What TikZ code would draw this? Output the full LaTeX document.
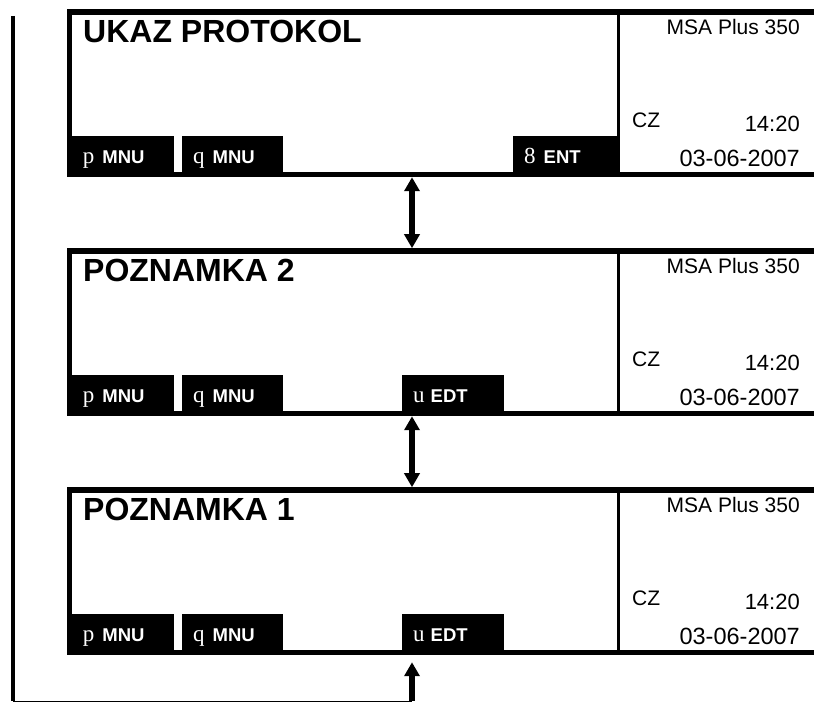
\documentclass[tikz,border=0pt]{standalone}
\usepackage{fontspec}
\setmainfont{Liberation Sans}
\newfontfamily\keysym{Liberation Serif}
\usetikzlibrary{arrows.meta,positioning}
\newcommand{\ksym}[1]{{\keysym\mdseries\fontsize{23}{23}\selectfont #1}}

\begin{document}
\begin{tikzpicture}[x=1pt, y=1pt,
    screen/.style={draw, line width=5.5pt, minimum width=760.5pt, minimum height=162.5pt, inner sep=0pt},
    softkey/.style={fill=black, anchor=south west, minimum height=41pt, inner sep=0pt},
    keylbl/.style={anchor=base west, text=white, inner sep=0pt, font=\fontsize{18.5}{18.5}\selectfont\bfseries},
    title/.style={anchor=base west, inner sep=0pt, font=\fontsize{32}{32}\selectfont\bfseries},
    info/.style={inner sep=0pt, font=\fontsize{21}{21}\selectfont},
    clock/.style={info, font=\fontsize{22}{22}\selectfont},
    date/.style={info, font=\fontsize{23.5}{23.5}\selectfont},
    divider/.style={line width=3pt},
    flow/.style={line width=5.5pt, {Triangle[width=15pt,length=14pt]}-{Triangle[width=15pt,length=14pt]}}]
    \useasboundingbox (0,0) rectangle (814,703);
    \clip (0,0) rectangle (814,703);

    \coordinate (dv) at (618.5, 0);
    \coordinate (ax) at (412, 0);
    \coordinate (rx) at (800, 0);
    \coordinate (cx) at (632, 0);

    % screens
    \node[screen] (s1) at (449.75, 609.75) {};
    \node[screen] (s2) at (449.75, 370.75) {};
    \node[screen] (s3) at (449.75, 131.75) {};
    \draw[divider] (s1.north -| dv) -- (s1.south -| dv);
    \draw[divider] (s2.north -| dv) -- (s2.south -| dv);
    \draw[divider] (s3.north -| dv) -- (s3.south -| dv);

    % titles
    \node[title] (t1) at ([xshift=16.25pt, yshift=-33.5pt]s1.north west) {UKAZ PROTOKOL};
    \node[title] (t2) at ([xshift=16.25pt, yshift=-33.5pt]s2.north west) {POZNAMKA 2};
    \node[title] (t3) at ([xshift=16.25pt, yshift=-33.5pt]s3.north west) {POZNAMKA 1};

    % status column
    \node[info, anchor=base east] (m1) at ([yshift=-25.75pt]s1.north -| rx) {MSA Plus 350};
    \node[info, anchor=base west] (c1) at ([yshift=-118.75pt]s1.north -| cx) {CZ};
    \node[clock, anchor=base east] (h1) at ([yshift=-122.75pt]s1.north -| rx) {14:20};
    \node[date, anchor=base east] (d1) at ([yshift=10.25pt]s1.south -| rx) {03-06-2007};
    \node[info, anchor=base east] (m2) at ([yshift=-25.75pt]s2.north -| rx) {MSA Plus 350};
    \node[info, anchor=base west] (c2) at ([yshift=-118.75pt]s2.north -| cx) {CZ};
    \node[clock, anchor=base east] (h2) at ([yshift=-122.75pt]s2.north -| rx) {14:20};
    \node[date, anchor=base east] (d2) at ([yshift=10.25pt]s2.south -| rx) {03-06-2007};
    \node[info, anchor=base east] (m3) at ([yshift=-25.75pt]s3.north -| rx) {MSA Plus 350};
    \node[info, anchor=base west] (c3) at ([yshift=-118.75pt]s3.north -| cx) {CZ};
    \node[clock, anchor=base east] (h3) at ([yshift=-122.75pt]s3.north -| rx) {14:20};
    \node[date, anchor=base east] (d3) at ([yshift=10.25pt]s3.south -| rx) {03-06-2007};

    % soft keys
    \node[softkey, minimum width=107pt] (k1a) at (s1.south west) {};
    \node[softkey, minimum width=101pt] (k1b) at ([xshift=115.25pt]s1.south west) {};
    \node[softkey, minimum width=105.5pt] (k1c) at ([xshift=446.25pt]s1.south west) {};
    \node[softkey, minimum width=107pt] (k2a) at (s2.south west) {};
    \node[softkey, minimum width=101pt] (k2b) at ([xshift=115.25pt]s2.south west) {};
    \node[softkey, minimum width=102pt] (k2c) at ([xshift=335.25pt]s2.south west) {};
    \node[softkey, minimum width=107pt] (k3a) at (s3.south west) {};
    \node[softkey, minimum width=101pt] (k3b) at ([xshift=115.25pt]s3.south west) {};
    \node[softkey, minimum width=102pt] (k3c) at ([xshift=335.25pt]s3.south west) {};

    \node[keylbl] at ([xshift=16pt, yshift=13.25pt]k1a.south west) {\ksym{p}\hspace{8pt}MNU};
    \node[keylbl] at ([xshift=11pt, yshift=13.25pt]k1b.south west) {\ksym{q}\hspace{8pt}MNU};
    \node[keylbl] at ([xshift=11pt, yshift=13.25pt]k1c.south west) {\ksym{8}\hspace{8pt}ENT};
    \node[keylbl] at ([xshift=16pt, yshift=13.25pt]k2a.south west) {\ksym{p}\hspace{8pt}MNU};
    \node[keylbl] at ([xshift=11pt, yshift=13.25pt]k2b.south west) {\ksym{q}\hspace{8pt}MNU};
    \node[keylbl] at ([xshift=11pt, yshift=13.25pt]k2c.south west) {\ksym{u}\hspace{6pt}EDT};
    \node[keylbl] at ([xshift=16pt, yshift=13.25pt]k3a.south west) {\ksym{p}\hspace{8pt}MNU};
    \node[keylbl] at ([xshift=11pt, yshift=13.25pt]k3b.south west) {\ksym{q}\hspace{8pt}MNU};
    \node[keylbl] at ([xshift=11pt, yshift=13.25pt]k3c.south west) {\ksym{u}\hspace{6pt}EDT};

    % transitions
    \draw[flow] (s1.south -| ax) -- (s2.north -| ax);
    \draw[flow] (s2.south -| ax) -- (s3.north -| ax);

    % back to the top
    \coordinate (lt) at (13, 687);
    \coordinate (lb) at (13, 1.5);
    \coordinate (ab) at (412, 1.5);
    \draw[line width=4pt] (lt) -- (lb);
    \draw[line width=1.5pt] (lb) -- (ab);
    \draw[line width=5.5pt, -{Triangle[width=15pt,length=14pt]}, shorten >=7pt] (ab) -- (s3.south -| ab);
\end{tikzpicture}
\end{document}
